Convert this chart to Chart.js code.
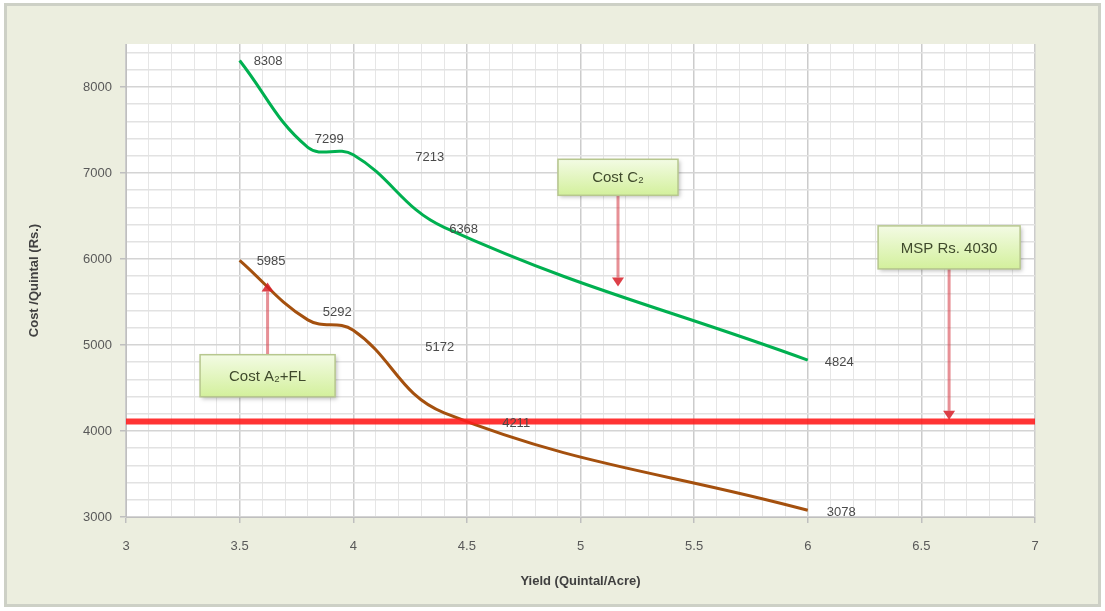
<!DOCTYPE html>
<html>
<head>
<meta charset="utf-8">
<script src="https://cdn.jsdelivr.net/npm/chart.js@4.4.0/dist/chart.umd.min.js"></script>
<style>
  html, body { margin: 0; padding: 0; background: #fff; }
  #frame { position: absolute; left: 4px; top: 3px; width: 1097px; height: 604px; box-sizing: border-box;
           background: #eceedf; border: 3px solid #cdd0c6; }
  #chart { position: absolute; left: 0; top: 0; }
</style>
</head>
<body>
<div id="frame"></div>
<canvas id="chart" width="1105" height="611"></canvas>
<script>
// Yield (Quintal/Acre) and cost per quintal
const yieldValues = [3.5, 3.8, 4.0, 4.4, 6.0];
const costC2 = [8308, 7299, 7213, 6368, 4824];
const costA2FL = [5985, 5292, 5172, 4211, 3078];
const mspYield = [3, 7];
const mspCost = [4110, 4110];

// grid / tick positions
const xTickValues = Array.from({ length: 41 }, (_, i) => +(3 + i * 0.1).toFixed(1));
const yTickValues = Array.from({ length: 28 }, (_, i) => 3000 + i * 200);

// callouts (box centre and arrow tip in data units)
const calloutText = ['Cost C\u2082', 'Cost A\u2082+FL', 'MSP Rs. 4030'];
const calloutAt = [[5.165, 6950], [3.623, 4643], [6.622, 6135]];
const calloutTip = [[5.165, 5680], [3.623, 5727], [6.622, 4130]];
const calloutSize = [[120, 36], [135, 42], [142, 43]];

// where each value label sits relative to its point (px)
const greenLabelShift = [[14, 1], [7, -8], [62, 3], [5, 2], [17, 2]];
const brownLabelShift = [[17, 1], [15, -7], [72, 17], [58, 11], [19, 2]];

const FONT = "'Liberation Sans', Arial, sans-serif";

function isHalf(v) { return Math.abs(v * 2 - Math.round(v * 2)) < 1e-6; }
function isThousand(v) { return v % 1000 === 0; }
function toPoints(xs, ys) { return xs.map((x, i) => ({ x: x, y: ys[i] })); }

// white plot area
const plotBackground = {
  id: 'plotBackground',
  beforeDraw(chart) {
    const { ctx, chartArea: a } = chart;
    ctx.save();
    ctx.fillStyle = '#ffffff';
    ctx.fillRect(a.left, a.top, a.right - a.left, a.bottom - a.top);
    ctx.restore();
  }
};

// value labels next to points
const valueLabels = {
  id: 'valueLabels',
  afterDatasetsDraw(chart) {
    const ctx = chart.ctx;
    ctx.save();
    ctx.font = '13px ' + FONT;
    ctx.fillStyle = '#4a4a4a';
    ctx.textAlign = 'left';
    ctx.textBaseline = 'middle';
    [[1, costC2, greenLabelShift], [2, costA2FL, brownLabelShift]].forEach(([idx, values, shift]) => {
      const meta = chart.getDatasetMeta(idx);
      meta.data.forEach((pt, i) => {
        ctx.fillText(String(values[i]), pt.x + shift[i][0], pt.y + shift[i][1]);
      });
    });
    ctx.restore();
  }
};

// callout boxes with arrows
const callouts = {
  id: 'callouts',
  afterDatasetsDraw(chart) {
    const { ctx, scales: { x, y } } = chart;
    calloutText.forEach((text, i) => {
      const cx = x.getPixelForValue(calloutAt[i][0]);
      const cy = y.getPixelForValue(calloutAt[i][1]);
      const tx = x.getPixelForValue(calloutTip[i][0]);
      const ty = y.getPixelForValue(calloutTip[i][1]);
      const w = calloutSize[i][0], h = calloutSize[i][1];
      const down = ty > cy;
      const sy = down ? cy + h / 2 : cy - h / 2;
      const head = 9;

      // arrow shaft
      ctx.save();
      ctx.strokeStyle = 'rgba(215, 70, 80, 0.6)';
      ctx.lineWidth = 3;
      ctx.beginPath();
      ctx.moveTo(cx, sy);
      ctx.lineTo(tx, down ? ty - head : ty + head);
      ctx.stroke();
      // arrow head
      ctx.fillStyle = 'rgba(215, 30, 40, 0.85)';
      ctx.beginPath();
      ctx.moveTo(tx, ty);
      ctx.lineTo(tx - 6, down ? ty - head : ty + head);
      ctx.lineTo(tx + 6, down ? ty - head : ty + head);
      ctx.closePath();
      ctx.fill();
      ctx.restore();

      // box
      ctx.save();
      const left = cx - w / 2, top = cy - h / 2;
      const grad = ctx.createLinearGradient(0, top, 0, top + h);
      grad.addColorStop(0, '#f3fbe4');
      grad.addColorStop(1, '#d3f09c');
      ctx.shadowColor = 'rgba(0, 0, 0, 0.25)';
      ctx.shadowBlur = 4;
      ctx.shadowOffsetX = 2;
      ctx.shadowOffsetY = 2;
      ctx.fillStyle = grad;
      ctx.fillRect(left, top, w, h);
      ctx.shadowColor = 'transparent';
      ctx.strokeStyle = '#b7c78e';
      ctx.lineWidth = 1.5;
      ctx.strokeRect(left, top, w, h);
      ctx.font = '15px ' + FONT;
      ctx.fillStyle = '#3f4a2c';
      ctx.textAlign = 'center';
      ctx.textBaseline = 'middle';
      ctx.fillText(text, cx, cy + 1);
      ctx.restore();
    });
  }
};

const ctx = document.getElementById('chart').getContext('2d');

new Chart(ctx, {
  type: 'line',
  data: {
    datasets: [
      {
        label: 'MSP',
        data: toPoints(mspYield, mspCost),
        borderColor: 'rgba(255, 30, 30, 0.9)',
        borderWidth: 6,
        pointRadius: 0,
        tension: 0
      },
      {
        label: 'Cost C2',
        data: toPoints(yieldValues, costC2),
        borderColor: '#00b050',
        borderWidth: 3,
        pointRadius: 0,
        tension: 0.4
      },
      {
        label: 'Cost A2+FL',
        data: toPoints(yieldValues, costA2FL),
        borderColor: '#a4500e',
        borderWidth: 3,
        pointRadius: 0,
        tension: 0.4
      }
    ]
  },
  options: {
    responsive: false,
    animation: false,
    devicePixelRatio: 1,
    layout: { padding: { top: 44, right: 70, left: 0, bottom: 0 } },
    plugins: {
      legend: { display: false },
      tooltip: { enabled: false }
    },
    scales: {
      x: {
        type: 'linear',
        min: 3,
        max: 7,
        afterBuildTicks: s => { s.ticks = xTickValues.map(v => ({ value: v })); },
        afterFit: s => { s.height = 94; },
        border: { color: '#bfbfbf', width: 1 },
        grid: {
          color: c => isHalf(c.tick.value) ? '#cccccc' : '#e6e6e6',
          lineWidth: c => isHalf(c.tick.value) ? 1.5 : 1,
          tickColor: c => isHalf(c.tick.value) ? '#bfbfbf' : 'transparent',
          tickLength: 6
        },
        ticks: {
          autoSkip: false,
          maxRotation: 0,
          padding: 16,
          color: '#595959',
          font: { size: 13, family: FONT },
          callback: v => isHalf(v) ? String(+v.toFixed(1)) : ''
        },
        title: {
          display: true,
          text: 'Yield (Quintal/Acre)',
          color: '#404040',
          font: { size: 13, weight: 'bold', family: FONT },
          padding: { top: 0, bottom: 22 }
        }
      },
      y: {
        min: 3000,
        max: 8500,
        afterBuildTicks: s => { s.ticks = yTickValues.map(v => ({ value: v })); },
        afterFit: s => { s.width = 126; },
        border: { color: '#bfbfbf', width: 1 },
        grid: {
          color: c => isThousand(c.tick.value) ? '#d4d4d4' : '#e2e2e2',
          lineWidth: 1.5,
          tickColor: c => isThousand(c.tick.value) ? '#bfbfbf' : 'transparent',
          tickLength: 6
        },
        ticks: {
          autoSkip: false,
          padding: 8,
          color: '#595959',
          font: { size: 13, family: FONT },
          callback: v => isThousand(v) ? String(v) : ''
        },
        title: {
          display: true,
          text: 'Cost /Quintal (Rs.)',
          color: '#404040',
          font: { size: 13, weight: 'bold', family: FONT },
          padding: { top: 27, bottom: 0 }
        }
      }
    }
  },
  plugins: [plotBackground, valueLabels, callouts]
});
</script>
</body>
</html>
